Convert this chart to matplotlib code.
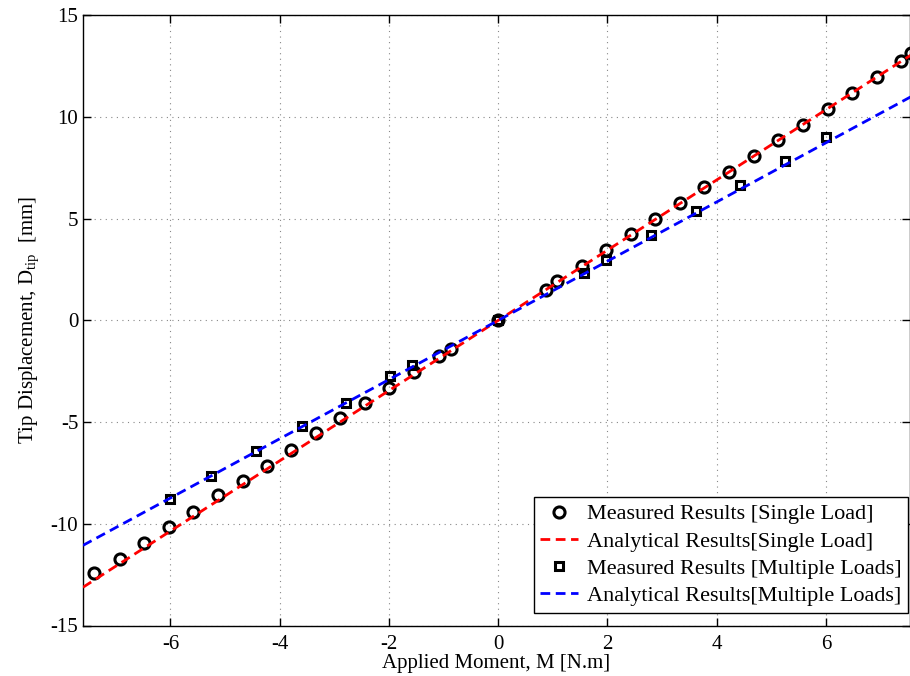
import numpy as np
import matplotlib
matplotlib.use("Agg")
import matplotlib.pyplot as plt

plt.rcParams['font.family'] = ['Liberation Serif', 'DejaVu Serif']
plt.rcParams['mathtext.fontset'] = 'custom'
plt.rcParams['mathtext.rm'] = 'Liberation Serif'
plt.rcParams['axes.unicode_minus'] = False

# measured tip displacement, single load case
m_single = [-7.39, -6.93, -6.48, -6.03, -5.58, -5.13, -4.68, -4.24, -3.80, -3.34,
            -2.89, -2.44, -2.00, -1.54, -1.09, -0.87, 0.0, 0.87, 1.07, 1.53,
            1.97, 2.43, 2.87, 3.33, 3.77, 4.23, 4.68, 5.13, 5.58, 6.03,
            6.47, 6.93, 7.38, 7.56]
d_single = [-12.44, -11.71, -10.94, -10.18, -9.41, -8.59, -7.92, -7.15, -6.35, -5.56,
            -4.81, -4.08, -3.30, -2.56, -1.76, -1.40, 0.0, 1.49, 1.93, 2.67,
            3.46, 4.23, 4.98, 5.76, 6.54, 7.28, 8.08, 8.87, 9.61, 10.38,
            11.18, 11.98, 12.75, 13.15]

# measured tip displacement, multiple loads case
m_multi = [-6.01, -5.25, -4.43, -3.60, -2.78, -1.98, -1.58, 0.0,
           1.57, 1.97, 2.79, 3.62, 4.43, 5.25, 6.00]
d_multi = [-8.80, -7.66, -6.44, -5.20, -4.08, -2.74, -2.20, 0.0,
           2.34, 2.97, 4.20, 5.39, 6.64, 7.85, 9.03]

# analytical lines (end points)
m_line = [-7.6, 7.6]
d_single_an = [-13.12, 13.12]
d_multi_an = [-11.06, 11.06]

fig = plt.figure(figsize=(9.10, 6.76), dpi=100)
ax = fig.add_axes([83 / 910, 1 - 625.5 / 676, 826.5 / 910, 610.2 / 676])

ax.plot(m_single, d_single, 'o', mfc='none', mec='k', ms=8, mew=2.2,
        label='Measured Results [Single Load]', zorder=3)
ax.plot(m_line, d_single_an, '--', color='#ff0000', lw=2, dashes=(3.5, 2),
        label='Analytical Results[Single Load]', zorder=4)
ax.plot(m_multi, d_multi, 's', mfc='none', mec='k', ms=5.5, mew=2.2,
        label='Measured Results [Multiple Loads]', zorder=3)
ax.plot(m_line, d_multi_an, '--', color='#0000ff', lw=2, dashes=(3.5, 2),
        label='Analytical Results[Multiple Loads]', zorder=4)

ax.set_xlim(-7.6, 7.53)
ax.set_ylim(-15, 15)
ax.set_xticks([-6, -4, -2, 0, 2, 4, 6])
ax.set_yticks([-15, -10, -5, 0, 5, 10, 15])
ax.grid(True, linestyle=(0, (1, 4)), color='#888888', lw=0.8)
ax.tick_params(direction='in', top=True, right=True, labelsize=15, length=6, width=1)
ax.tick_params(axis='x', pad=7)
for s in ax.spines.values():
    s.set_linewidth(1.0)

ax.set_xlabel('Applied Moment, M [N.m]', fontsize=15, labelpad=0)
ax.set_ylabel('Tip Displacement, D$_\\mathregular{tip}$  [mm]', fontsize=15, labelpad=6)

leg = ax.legend(loc='lower right', fontsize=16, fancybox=False, framealpha=1,
                edgecolor='k', borderaxespad=0.0, bbox_to_anchor=(0.9985, 0.021),
                handlelength=1.7, labelspacing=0.3, borderpad=0.3,
                handletextpad=0.4)
leg.get_frame().set_linewidth(1.0)

fig.savefig('out.png', dpi=100)
